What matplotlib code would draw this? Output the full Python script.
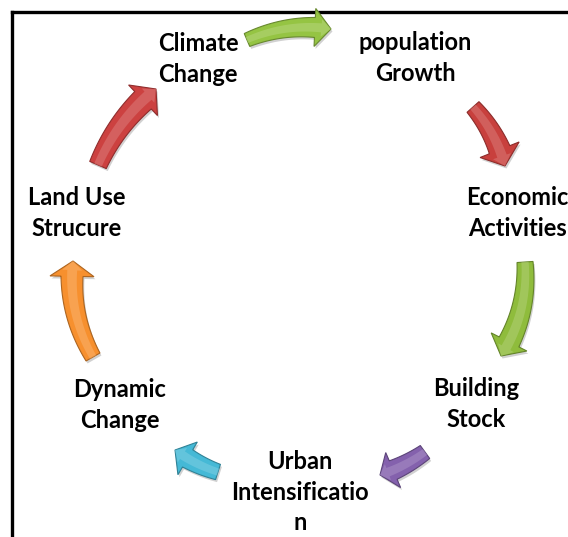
import numpy as np
import matplotlib
matplotlib.use("Agg")
import matplotlib.pyplot as plt
from matplotlib.patches import Polygon
from matplotlib.colors import to_rgb

W, H = 568, 537

# cycle stages (text of the diagram)
labels = ["Climate\nChange", "population\nGrowth", "Economic\nActivities",
          "Building\nStock", "Urban\nIntensificatio\nn", "Dynamic\nChange",
          "Land Use\nStrucure"]

# arrow colours, one per link, starting after "Climate Change"
arrow_colors = ["#95c443", "#c8403d", "#8fbc3c", "#8461ad",
                "#45b9d6", "#f7902e", "#cc4140"]

# layout (pixel coords, y down)
label_pos = [(198, 59), (415, 58), (517, 213), (476, 404),
             (300, 492), (120, 405), (77, 213)]
# tail, tip, bulge, head length, shaft half width tail/head, head half width
arrow_geom = [
    ((247, 40), (331, 29), 6, 16, 7, 10, 19),
    ((473, 107), (505, 166), 4, 17, 8, 11, 21),
    ((525, 262), (501, 356), 8, 16, 8, 11, 20),
    ((425, 452), (380, 475), 2, 14, 8, 10, 19),
    ((218, 472), (175, 450), 2, 15, 8, 10, 19),
    ((93, 357), (73, 261), 8, 15, 8, 11, 22),
    ((98, 165), (156, 89), 6, 17, 9, 12, 21),
]
CENTER = np.array([300.0, 270.0])


def shade(c, f):
    r = np.array(to_rgb(c))
    if f < 0:
        return tuple(r * (1 + f))
    return tuple(r + (1 - r) * f)


def arrow_poly(tail, tip, bulge, head_len, hw0, hw1, hh):
    tail = np.array(tail, float)
    tip = np.array(tip, float)
    mid = (tail + tip) / 2
    d = tip - tail
    n = np.array([-d[1], d[0]]) / np.hypot(*d)
    if np.dot(n, mid - CENTER) < 0:
        n = -n
    ctrl = mid + n * 2 * bulge
    t = np.linspace(0, 1, 200)[:, None]
    pts = (1 - t) ** 2 * tail + 2 * (1 - t) * t * ctrl + t ** 2 * tip
    seg = np.hypot(*np.diff(pts, axis=0).T)
    s = np.concatenate([[0], np.cumsum(seg)])
    L = s[-1]
    tan = np.gradient(pts, axis=0)
    tan /= np.hypot(tan[:, 0], tan[:, 1])[:, None]
    nrm = np.stack([-tan[:, 1], tan[:, 0]], axis=1)
    k = s <= L - head_len
    frac = s[k] / (L - head_len)
    hw = (hw0 + (hw1 - hw0) * frac)[:, None]
    left = pts[k] + nrm[k] * hw
    right = pts[k] - nrm[k] * hw
    i = np.count_nonzero(k) - 1
    B, nb = pts[i], nrm[i]
    head = np.array([B + nb * hh, tip, B - nb * hh])
    return np.vstack([left, head, right[::-1]])


fig = plt.figure(figsize=(W / 100, H / 100), dpi=100)
ax = fig.add_axes([0, 0, 1, 1])
ax.set_xlim(0, W)
ax.set_ylim(H, 0)
ax.axis("off")

# frame (open on right and bottom)
ax.plot([12, 12], [H, 11.5], color="black", lw=2.4, solid_capstyle="projecting", zorder=1)
ax.plot([12, W], [11.5, 11.5], color="black", lw=2.4, solid_capstyle="projecting", zorder=1)

for (tail, tip, bulge, hl, hw0, hw1, hh), col in zip(arrow_geom, arrow_colors):
    p = arrow_poly(tail, tip, bulge, hl, hw0, hw1, hh)
    ax.add_patch(Polygon(p + np.array([1.5, 2.5]), closed=True, fc="black",
                         ec="none", alpha=0.18, zorder=2))
    ax.add_patch(Polygon(p, closed=True, fc=col, ec=shade(col, -0.3),
                         lw=0.8, zorder=3))
    hp = arrow_poly(tail, tip, bulge, hl * 0.6, hw0 * 0.45, hw1 * 0.45, hh * 0.45)
    ax.add_patch(Polygon(hp, closed=True, fc=shade(col, 0.3), ec="none",
                         alpha=0.55, zorder=4))

for txt, (x, y) in zip(labels, label_pos):
    ax.text(x, y, txt, ha="center", va="center", fontsize=17,
            fontweight="bold", family="Lato", linespacing=1.4, zorder=5)

fig.savefig("out.png", dpi=100)
